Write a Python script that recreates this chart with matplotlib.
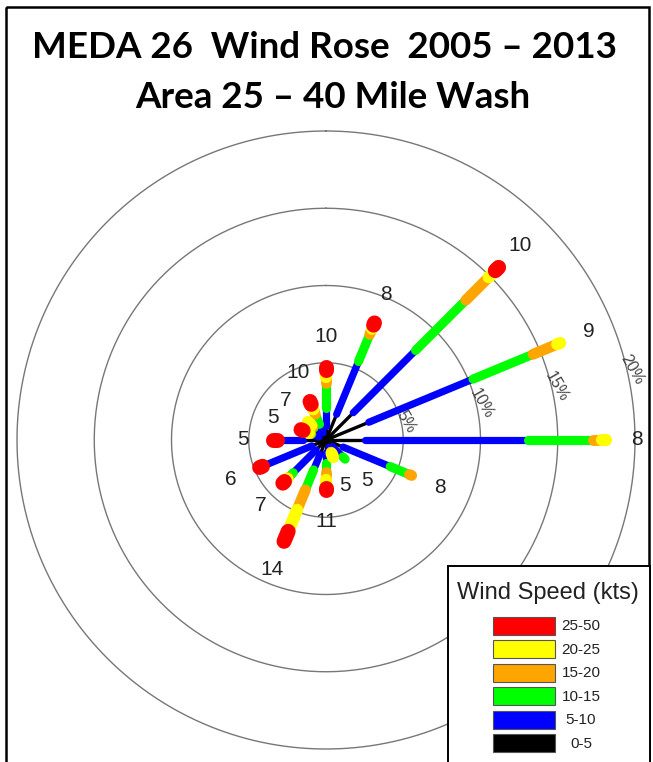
import numpy as np
import matplotlib
matplotlib.use("Agg")
import matplotlib.pyplot as plt
from matplotlib.patches import Rectangle

# ---- data -------------------------------------------------------------
directions = ["N", "NNE", "NE", "ENE", "E", "ESE", "SE", "SSE",
              "S", "SSW", "SW", "WSW", "W", "WNW", "NW", "NNW"]
speed_bins = ["0-5", "5-10", "10-15", "15-20", "20-25", "25-50"]
bin_colors = ["#000000", "#0000FF", "#00FF00", "#FFA500", "#FFFF00", "#FF0000"]

# percent of observations from each direction, per speed class (kts)
freq_0_5 = [0.9, 1.8, 2.5, 3.0, 2.5, 1.2, 0.6, 0.5, 0.8, 1.0, 0.9, 1.0, 1.5, 0.5, 0.6, 0.5]
freq_5_10 = [1.2, 3.7, 5.7, 7.3, 10.6, 3.3, 0.95, 0.3, 0.7, 1.1, 2.1, 3.45, 1.7, 0.5, 0.5, 0.6]
freq_10_15 = [1.6, 1.9, 4.6, 4.2, 4.2, 1.35, 0.2, 0.05, 0.6, 1.4, 0.45, 0.0, 0.0, 0.1, 0.1, 0.7]
freq_15_20 = [0.4, 0.4, 2.1, 1.7, 0.55, 0.15, 0.0, 0.1, 0.5, 1.4, 0.1, 0.0, 0.0, 0.1, 0.15, 0.35]
freq_20_25 = [0.45, 0.25, 0.6, 0.2, 0.25, 0.0, 0.0, 0.25, 0.5, 1.5, 0.25, 0.0, 0.0, 0.4, 0.3, 0.35]
freq_25_50 = [0.15, 0.15, 0.3, 0.0, 0.0, 0.0, 0.0, 0.0, 0.15, 0.7, 0.15, 0.2, 0.2, 0.15, 0.0, 0.2]

tip_labels = [10, 8, 10, 9, 8, 8, 5, 5, 11, 14, 7, 6, 5, 5, 7, 10]
ring_levels = [5, 10, 15, 20]

title_lines = ["MEDA 26  Wind Rose  2005 \u2013 2013", "Area 25 \u2013 40 Mile Wash"]
legend_title = "Wind Speed (kts)"

# ---- figure -------------------------------------------------------------
W, H = 653, 762
fig = plt.figure(figsize=(W / 100, H / 100), dpi=100)
fig.patch.set_facecolor("white")

cx, cy = 326, 440          # rose centre (pixels from top-left)
rmax = 21.0                # radial limit in percent
rpix = 309 * rmax / 20.0   # pixel radius of rmax
ax = fig.add_axes([(cx - rpix) / W, (H - cy - rpix) / H, 2 * rpix / W, 2 * rpix / H],
                  projection="polar")
ax.set_theta_zero_location("N")
ax.set_theta_direction(-1)
ax.set_ylim(0, rmax)
ax.grid(False)
ax.set_xticks([])
ax.set_yticks([])
ax.spines["polar"].set_visible(False)
ax.patch.set_alpha(0)

# rings
tt = np.linspace(0, 2 * np.pi, 500)
lab_ang = np.deg2rad(77)
for r in ring_levels:
    ax.plot(tt, np.full_like(tt, r), color="#777777", lw=1.0, zorder=1)
    ax.text(lab_ang, r + 0.35, f"{r}%", rotation=-60, ha="center", va="center",
            fontsize=11.5, color="#444444", family="Liberation Sans", zorder=2)

# spokes: stacked speed classes, wider for faster classes
freqs = np.array([freq_0_5, freq_5_10, freq_10_15, freq_15_20, freq_20_25, freq_25_50])
cum = np.cumsum(freqs, axis=0)
start = np.vstack([np.zeros(len(directions)), cum[:-1]])
theta = np.deg2rad(np.arange(len(directions)) * 360.0 / len(directions))
widths = [2.4, 5.2, 6.6, 7.8, 8.8, 10.8]

for k in range(len(speed_bins)):
    for i in range(len(directions)):
        if freqs[k, i] <= 0:
            continue
        ax.plot([theta[i], theta[i]], [start[k, i], cum[k, i]], color=bin_colors[k],
                lw=widths[k], solid_capstyle="round", zorder=3 + k)

total = cum[-1]
for i, lab in enumerate(tip_labels):
    ax.text(theta[i], total[i] + 2.0, str(lab), ha="center", va="center",
            fontsize=15, color="#222222", family="Liberation Sans", zorder=10)

# ---- overlay: frame, title, legend ------------------------------------------
ox = fig.add_axes([0, 0, 1, 1], zorder=5)
ox.set_xlim(0, W)
ox.set_ylim(H, 0)
ox.axis("off")
ox.patch.set_alpha(0)

ox.add_patch(Rectangle((5.5, 6.5), 643.5, 800, fill=False, ec="black", lw=1.8))

ox.text(324, 48, title_lines[0], ha="center", va="center", fontsize=26.5,
        fontweight="bold", family="Lato", color="black")
ox.text(333, 97, title_lines[1], ha="center", va="center", fontsize=26.5,
        fontweight="bold", family="Lato", color="black")

ox.add_patch(Rectangle((448, 566), 202, 220, fc="white", ec="black", lw=1.4, zorder=1))
ox.text(548, 593, legend_title, ha="center", va="center", fontsize=17,
        family="Liberation Sans", color="#222222", zorder=2)
for j, k in enumerate(range(len(speed_bins) - 1, -1, -1)):
    y0 = 617 + j * 23.4
    ox.add_patch(Rectangle((493, y0), 62, 18, fc=bin_colors[k], ec="#555555",
                           lw=0.8, zorder=2))
    ox.text(581, y0 + 9.5, speed_bins[k], ha="center", va="center", fontsize=11,
            family="Liberation Sans", color="#222222", zorder=2)

fig.savefig("out.png", dpi=100)
